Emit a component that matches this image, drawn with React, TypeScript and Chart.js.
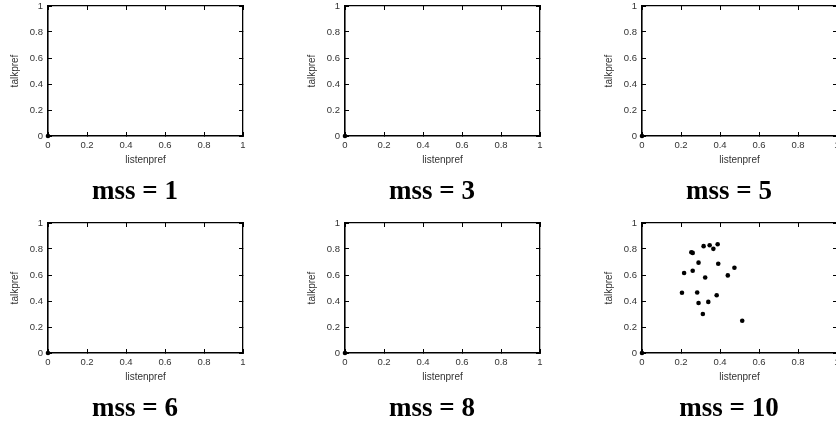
import React, { useEffect, useRef } from "react";
import { Chart, registerables } from "chart.js";

Chart.register(...registerables);

// ---- data ----
const mssValues = [1, 3, 5, 6, 8, 10];
const tickLabels = ["0", "0.2", "0.4", "0.6", "0.8", "1"];
const xAxisTitle = "listenpref";
const yAxisTitle = "talkpref";

const listenpref1 = [0];
const talkpref1 = [0];
const listenpref3 = [0];
const talkpref3 = [0];
const listenpref5 = [0];
const talkpref5 = [0];
const listenpref6 = [0];
const talkpref6 = [0];
const listenpref8 = [0];
const talkpref8 = [0];
const listenpref10 = [
  0, 0.253, 0.26, 0.316, 0.347, 0.366, 0.388, 0.29, 0.391, 0.216, 0.26,
  0.324, 0.44, 0.474, 0.205, 0.283, 0.383, 0.29, 0.34, 0.312, 0.514,
];
const talkpref10 = [
  0, 0.775, 0.77, 0.822, 0.829, 0.801, 0.837, 0.695, 0.687, 0.615, 0.633,
  0.581, 0.597, 0.656, 0.463, 0.465, 0.444, 0.385, 0.393, 0.3, 0.248,
];

const panelXs = [listenpref1, listenpref3, listenpref5, listenpref6, listenpref8, listenpref10];
const panelYs = [talkpref1, talkpref3, talkpref5, talkpref6, talkpref8, talkpref10];

// ---- layout ----
const COL_W = 297;
const ROW_H = 217;
const TICK_FONT = { family: "'Liberation Sans', Arial, sans-serif", size: 9.5 };
const TITLE_FONT = { family: "'Liberation Sans', Arial, sans-serif", size: 10 };
const TEXT_COLOR = "#333";

function Panel({ index }: { index: number }) {
  const ref = useRef<HTMLCanvasElement | null>(null);
  useEffect(() => {
    if (!ref.current) return;
    const xs = panelXs[index];
    const ys = panelYs[index];
    const axisCommon = {
      type: "linear" as const,
      min: 0,
      max: 1,
    };
    const chart = new Chart(ref.current, {
      type: "scatter",
      data: {
        datasets: [
          {
            data: xs.map((x, i) => ({ x, y: ys[i] })),
            pointRadius: 2.3,
            pointHoverRadius: 2.3,
            backgroundColor: "#000",
            borderWidth: 0,
            clip: false as any,
          },
        ],
      },
      options: {
        responsive: false,
        animation: false,
        events: [],
        layout: { padding: { left: 0, top: 0, right: 0, bottom: 51 } },
        plugins: { legend: { display: false }, tooltip: { enabled: false } },
        scales: {
          x: {
            ...axisCommon,
            position: "bottom",
            ticks: {
              stepSize: 0.2,
              padding: 8,
              font: TICK_FONT,
              color: TEXT_COLOR,
              maxRotation: 0,
              autoSkip: false,
              callback: (_v: any, i: number) => tickLabels[i],
            },
            grid: { drawOnChartArea: false, tickLength: -4, color: "#000", lineWidth: 1 },
            border: { display: true, color: "#000", width: 1.6 },
            title: { display: true, text: xAxisTitle, font: TITLE_FONT, color: TEXT_COLOR, padding: 0 },
            afterFit: (s: any) => {
              s.height = 30;
              s.paddingLeft = 0;
              s.paddingRight = 0;
            },
          },
          y: {
            ...axisCommon,
            position: "left",
            ticks: {
              stepSize: 0.2,
              padding: 9,
              font: TICK_FONT,
              color: TEXT_COLOR,
              autoSkip: false,
              callback: (_v: any, i: number) => tickLabels[i],
            },
            grid: { drawOnChartArea: false, tickLength: -4, color: "#000", lineWidth: 1 },
            border: { display: true, color: "#000", width: 1.6 },
            title: {
              display: true,
              text: yAxisTitle,
              font: TITLE_FONT,
              color: TEXT_COLOR,
              padding: { top: 9, bottom: 0 },
            },
            afterFit: (s: any) => {
              s.width = 48;
              s.paddingTop = 0;
              s.paddingBottom = 0;
            },
          },
          x2: {
            ...axisCommon,
            position: "top",
            ticks: { stepSize: 0.2, display: false },
            grid: { drawOnChartArea: false, tickLength: -4, color: "#000", lineWidth: 1 },
            border: { display: true, color: "#000", width: 1.3 },
            afterFit: (s: any) => {
              s.height = 6;
            },
          },
          y2: {
            ...axisCommon,
            position: "right",
            ticks: { stepSize: 0.2, display: false },
            grid: { drawOnChartArea: false, tickLength: -4, color: "#000", lineWidth: 1 },
            border: { display: true, color: "#000", width: 1.3 },
            afterFit: (s: any) => {
              s.width = 54;
            },
          },
        } as any,
      },
    });
    return () => chart.destroy();
  }, [index]);

  const col = index % 3;
  const row = Math.floor(index / 3);
  return (
    <>
      <canvas
        ref={ref}
        width={COL_W}
        height={ROW_H}
        style={{
          position: "absolute",
          left: col * COL_W,
          top: row * ROW_H,
          width: COL_W,
          height: ROW_H,
        }}
      />
      <div
        style={{
          position: "absolute",
          left: col * COL_W + 135 - 100,
          width: 200,
          top: row * ROW_H + 177,
          textAlign: "center",
          fontFamily: "'Liberation Serif', 'Times New Roman', serif",
          fontWeight: "bold",
          fontSize: 27,
          lineHeight: 1,
          color: "#000",
          whiteSpace: "nowrap",
        }}
      >
        {"mss = " + mssValues[index]}
      </div>
    </>
  );
}

export default function App() {
  return (
    <div
      style={{
        position: "absolute",
        left: 0,
        top: 0,
        width: 836,
        height: 428,
        overflow: "hidden",
        background: "#fff",
      }}
    >
      {mssValues.map((_, i) => (
        <Panel key={i} index={i} />
      ))}
    </div>
  );
}
